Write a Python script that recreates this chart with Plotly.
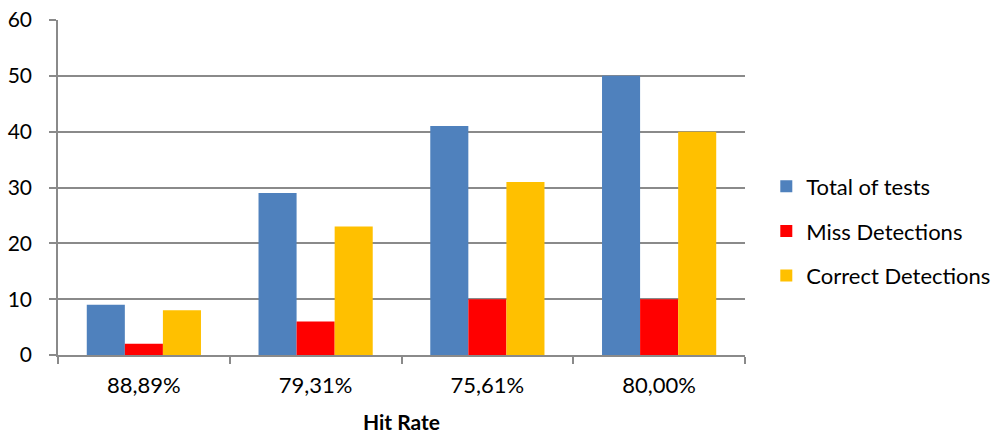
import plotly.graph_objects as go

categories = ["88,89%", "79,31%", "75,61%", "80,00%"]
total_tests = [9, 29, 41, 50]
miss_detections = [2, 6, 10, 10]
correct_detections = [8, 23, 31, 40]
y_ticks = [0, 10, 20, 30, 40, 50, 60]

FONT = "Lato"
GRID = "#8a8a8a"

fig = go.Figure()
series = [
    ("Total of tests", total_tests, "#4F81BD"),
    ("Miss Detections", miss_detections, "#FF0000"),
    ("Correct Detections", correct_detections, "#FFC000"),
]
for name, vals, color in series:
    fig.add_trace(go.Bar(
        x=categories, y=vals, name=name, legendgroup=name,
        marker=dict(color=color, line=dict(width=0)),
    ))

fig.update_layout(
    width=998, height=434,
    margin=dict(l=58, r=253, t=20, b=79, autoexpand=False),
    paper_bgcolor="white", plot_bgcolor="white",
    barmode="group", bargap=0.335, bargroupgap=0,
    font=dict(family=FONT, size=21, color="#000000"),
    showlegend=True,
    legend=dict(
        x=1.031, xref="paper", xanchor="left", y=0.37, yanchor="middle",
        font=dict(family=FONT, size=22, color="#000000"),
        tracegroupgap=13, itemwidth=30,
        bgcolor="rgba(0,0,0,0)",
    ),
    xaxis=dict(
        automargin=False,
        showline=True, linecolor=GRID, linewidth=1.5,
        ticks="outside", tickson="boundaries", ticklen=7, tickcolor=GRID, tickwidth=1.5,
        ticklabelstandoff=10,
        tickfont=dict(family=FONT, size=22),
        title=dict(text="<b>Hit Rate</b>", font=dict(family=FONT, size=21), standoff=22),
        showgrid=False,
    ),
    yaxis=dict(
        automargin=False,
        range=[0, 60], tickvals=y_ticks,
        showline=True, linecolor=GRID, linewidth=1.5,
        ticks="outside", ticklen=7, tickcolor=GRID, tickwidth=1.5,
        ticklabelstandoff=13,
        showgrid=True, gridcolor=GRID, gridwidth=1.5,
        zeroline=False,
        tickfont=dict(family=FONT, size=21),
    ),
)

fig.write_html("out.html")
